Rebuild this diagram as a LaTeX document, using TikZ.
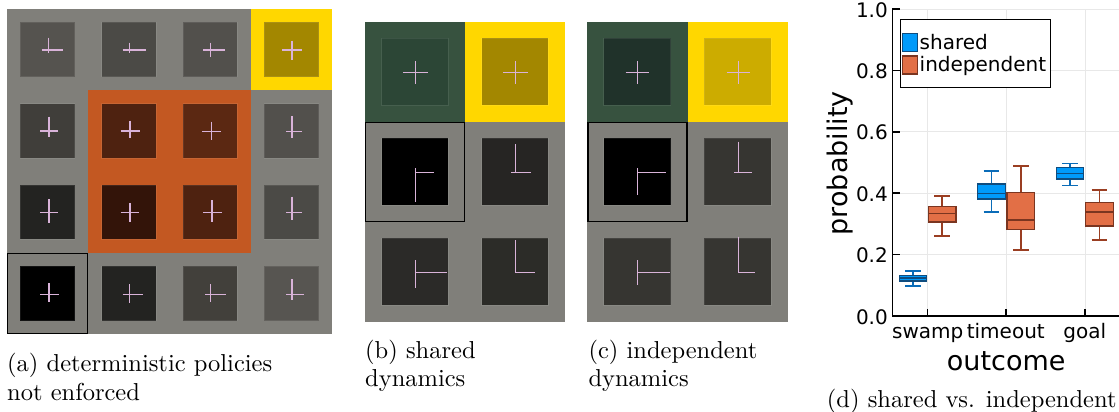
\documentclass[tikz,border=0pt]{standalone}
\usepackage{fontspec}
\newfontfamily\plotfont{DejaVu Sans}
\newfontfamily\capfont{lmroman10-regular.otf}
\definecolor{bggray}{HTML}{807F7A}
\definecolor{orng}{HTML}{C35822}
\definecolor{ylw}{HTML}{FFD700}
\definecolor{grn}{HTML}{37523F}
\definecolor{pinkx}{HTML}{D9B3D9}
\definecolor{sblue}{HTML}{009AFA}
\definecolor{sblued}{HTML}{0F4C7E}
\definecolor{sbluew}{HTML}{0A6CB8}
\definecolor{iorng}{HTML}{E26F46}
\definecolor{iorngd}{HTML}{7A3520}
\definecolor{iorngw}{HTML}{9A3E22}
\definecolor{gridc}{HTML}{E8E8E8}
\tikzset{
  crossln/.style={draw=pinkx, line width=1.45pt, line cap=butt},
  innersq/.style={fill=#1, draw=white, draw opacity=0.08, line width=0.8pt},
  caption/.style={font=\capfont\fontsize{24.5}{29}\selectfont, anchor=base west, inner sep=0pt},
  ticklab/.style={font=\plotfont\fontsize{20}{24}\selectfont, inner sep=0pt},
  axlab/.style={font=\plotfont\fontsize{27}{32}\selectfont, inner sep=0pt},
  gridln/.style={draw=gridc, line width=0.9pt},
  axisln/.style={draw=black, line width=1.5pt},
  legtxt/.style={font=\plotfont\fontsize{20}{24}\selectfont, anchor=base west, inner sep=0pt},
}
% cross: hx1 hx2 hy vx vy1 vy2
\newcommand{\crs}[6]{\draw[crossln] (#1,#3) -- (#2,#3); \draw[crossln] (#4,#5) -- (#4,#6);}
% boxplot: xc, whisker top, q3, median, q1, whisker bottom, fill, edge, whisker colour
\newcommand{\bxplt}[9]{%
  \draw[#9, line width=1.6pt] (#1,#2) -- (#1,#3);
  \draw[#9, line width=1.6pt] (#1,#5) -- (#1,#6);
  \draw[#9, line width=1.6pt] (#1-7.8,#2) -- (#1+7.8,#2);
  \draw[#9, line width=1.6pt] (#1-7.8,#6) -- (#1+7.8,#6);
  \draw[fill=#7, draw=#8, line width=1.3pt] (#1-13.8,#3) rectangle (#1+13.8,#5);
  \draw[#8, line width=1.2pt] (#1-13.8,#4) -- (#1+13.8,#4);
}
\begin{document}
\begin{tikzpicture}[x=1pt, y=-1pt]
\useasboundingbox (0,0) rectangle (1119,412);

% ---------------- panel (a) ----------------
\fill[bggray] (7,9) rectangle (332,334);
\fill[ylw] (250.75,9) rectangle (332,90.25);
\fill[orng] (88.25,90.25) rectangle (250.75,252.75);
\draw[black, line width=1.2pt] (7.6,253.5) rectangle (87.8,333.4);
\foreach \c/\r/\col in {0/0/55534F,1/0/4B4A46,2/0/52504C,3/0/A38700,
                        0/1/403E3A,1/1/4E2210,2/1/5B2812,3/1/52504C,
                        0/2/232321,1/2/331409,2/2/4E2210,3/2/4B4A46,
                        0/3/000000,1/3/232321,2/3/42403B,3/3/575551}{
  \definecolor{tmpc}{HTML}{\col}
  \path[innersq=tmpc] ({7+81.25*\c+13.4},{9+81.25*\r+13.4}) rectangle ++(54.4,54.4);
}
\crs{41.7}{62.7}{50}{48.3}{37.7}{53.3}
\crs{122.7}{146}{50}{129.3}{42.7}{53.3}
\crs{203.3}{225.3}{50}{210.7}{42.7}{56.7}
\crs{282}{301.7}{50}{292}{40.7}{60}
\crs{40}{58.3}{131}{49}{116.7}{136.7}
\crs{120.7}{140}{131}{130}{120.7}{138.3}
\crs{202}{220.7}{131.7}{211.3}{121.7}{140}
\crs{286}{301.7}{131.7}{292}{116}{138.3}
\crs{40}{57.7}{212.3}{49}{199.3}{222.7}
\crs{120.7}{139.3}{212.3}{130}{203.3}{221.7}
\crs{203.3}{222}{212.3}{212}{200}{221.7}
\crs{286}{301.7}{212.3}{292}{196.7}{220}
\crs{40}{59}{294.3}{49}{283.3}{301.7}
\crs{122.7}{143.3}{294.3}{129.3}{284.3}{303.3}
\crs{205}{226}{294.3}{210.7}{284.3}{301.7}
\crs{286}{304}{294.3}{292}{279.3}{300}

% ---------------- panel (b) ----------------
\fill[bggray] (365,121.7) rectangle (565,321.7);
\fill[grn] (365,21.7) rectangle (465,121.7);
\fill[ylw] (465,21.7) rectangle (565,121.7);
\draw[black, line width=1.2pt] (365.6,122.2) rectangle (464.6,221.2);
\foreach \c/\r/\col in {0/0/2C4636,1/0/A38700,0/1/000000,1/1/262523,0/2/2B2A28,1/2/2C2C28}{
  \definecolor{tmpc}{HTML}{\col}
  \path[innersq=tmpc] ({365+100*\c+16.7},{21.7+100*\r+16.7}) rectangle ++(66.7,66.7);
}
\crs{403.3}{428.3}{72.7}{415.7}{61}{84.3}
\crs{503.3}{527.7}{72.7}{515.3}{61}{84.3}
\crs{415.7}{434}{172.3}{415.7}{168.3}{201.7}
\crs{511}{531}{172.3}{515.3}{144.3}{172.3}
\crs{415.7}{446.7}{272.3}{415.7}{260}{288.3}
\crs{515.3}{535}{272.7}{515.3}{240}{272.7}

% ---------------- panel (c) ----------------
\fill[bggray] (587.3,121.7) rectangle (788.3,321.7);
\fill[grn] (587.3,21.7) rectangle (687.8,121.7);
\fill[ylw] (687.8,21.7) rectangle (788.3,121.7);
\draw[black, line width=1.2pt] (587.9,122.2) rectangle (686.9,221.2);
\foreach \c/\r/\col in {0/0/20322A,1/0/CCAC00,0/1/000000,1/1/363531,0/2/363531,1/2/363531}{
  \definecolor{tmpc}{HTML}{\col}
  \path[innersq=tmpc] ({587.3+100.5*\c+16.3},{21.7+100*\r+16.7}) rectangle ++(67,66.7);
}
\crs{625.7}{649.3}{72.7}{637.7}{61}{84.3}
\crs{726.7}{750.3}{72.7}{738.3}{61}{84.3}
\crs{637.7}{666}{172.3}{637.7}{168.3}{195}
\crs{734}{751.7}{172.3}{738.3}{141.7}{172.3}
\crs{637.7}{670}{272.3}{637.7}{260}{285}
\crs{738.3}{755}{272.7}{738.3}{236.7}{272.7}

% ---------------- panel (d) ----------------
\foreach \yy in {9,70.4,131.8,193.2,254.6}{\draw[gridln] (892.3,\yy) -- (1119,\yy);}
\foreach \xx in {927.7,1006,1085}{\draw[gridln] (\xx,9) -- (\xx,316);}
\draw[axisln] (892.3,9) -- (892.3,316) -- (1119,316);
\foreach \yy in {9,70.4,131.8,193.2,254.6}{\draw[axisln] (892.3,\yy) -- (899.5,\yy);}
\foreach \xx in {927.7,1006,1085}{\draw[axisln] (\xx,316) -- (\xx,308.5);}
\node[ticklab, anchor=east] (y10) at (888,10) {1.0};
\node[ticklab, anchor=east] (y08) at (888,71.2) {0.8};
\node[ticklab, anchor=east] (y06) at (888,132.6) {0.6};
\node[ticklab, anchor=east] (y04) at (888,194) {0.4};
\node[ticklab, anchor=east] (y02) at (888,255.4) {0.2};
\node[ticklab, anchor=east] (y00) at (888,316.8) {0.0};
\node[ticklab, anchor=base] (xsw) at (927.7,338.3) {swamp};
\node[ticklab, anchor=base] (xto) at (1005.8,338.3) {timeout};
\node[ticklab, anchor=base] (xgo) at (1084.7,338.3) {goal};
\node[axlab, anchor=base] (xlab) at (1006.2,370) {outcome};
\node[axlab, rotate=90, anchor=base] (ylab) at (847,163.3) {probability};

\bxplt{913}{270.7}{275.3}{278}{281}{286}{sblue}{sblued}{sbluew}
\bxplt{942.2}{196}{206.7}{213.3}{222}{235.7}{iorng}{iorngd}{iorngw}
\bxplt{991.5}{171}{184}{193.3}{199}{212}{sblue}{sblued}{sbluew}
\bxplt{1020.8}{166}{192.7}{220}{229.5}{250}{iorng}{iorngd}{iorngw}
\bxplt{1070}{163.3}{167.7}{173.3}{179}{185.3}{sblue}{sblued}{sbluew}
\bxplt{1099.5}{190}{202.3}{212}{226}{240}{iorng}{iorngd}{iorngw}

\draw[fill=white, draw=black, line width=1.3pt] (900.3,19.3) rectangle (1050.3,87.3);
\draw[fill=sblue, draw=sblued, line width=1.2pt] (902.8,33.5) rectangle (917.8,51.5);
\draw[fill=iorng, draw=iorngd, line width=1.2pt] (902.8,56) rectangle (917.8,74);
\node[legtxt] (lg1) at (919.5,50) {shared};
\node[legtxt] (lg2) at (919.5,71.5) {independent};

% ---------------- captions ----------------
\node[caption] (capa1) at (7,371.7) {(a) deterministic policies};
\node[caption] (capa2) at (7,400) {not enforced};
\node[caption] (capb1) at (365,358.3) {(b) shared};
\node[caption] (capb2) at (365,386.7) {dynamics};
\node[caption] (capc1) at (588.3,358.3) {(c) independent};
\node[caption] (capc2) at (588.3,386.7) {dynamics};
\node[caption] (capd) at (826.7,407.3) {(d) shared vs. independent};
\end{tikzpicture}
\end{document}
